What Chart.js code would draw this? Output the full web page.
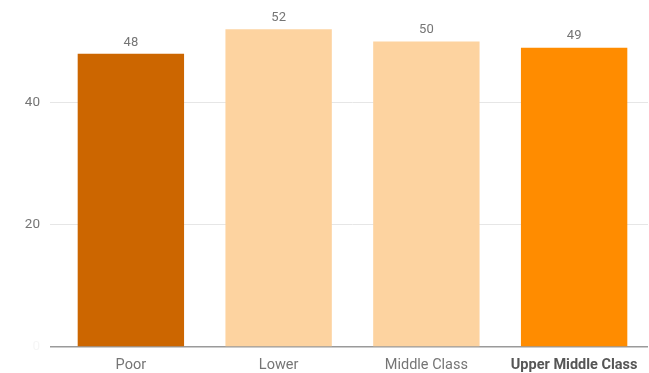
<!DOCTYPE html>
<html>
<head>
<meta charset="utf-8">
<script src="https://cdn.jsdelivr.net/npm/chart.js@4/dist/chart.umd.min.js"></script>
<style>
html,body{margin:0;padding:0;background:#fff;}
#wrap{width:649px;height:373px;position:relative;}
</style>
</head>
<body>
<div id="wrap"><canvas id="c" width="649" height="373"></canvas></div>
<script>
const categories = ["Poor", "Lower", "Middle Class", "Upper Middle Class"];
const values = [48, 52, 50, 49];
const barColors = ["#CC6600", "#FDD3A0", "#FDD3A0", "#FF8C00"];
const yTicks = [0, 20, 40];

const valueLabels = {
  id: 'valueLabels',
  afterDatasetsDraw(chart) {
    const ctx = chart.ctx;
    const meta = chart.getDatasetMeta(0);
    ctx.save();
    ctx.font = '13px Roboto';
    ctx.fillStyle = '#757575';
    ctx.textAlign = 'center';
    ctx.textBaseline = 'bottom';
    meta.data.forEach((bar, i) => {
      ctx.fillText(String(values[i]), bar.x, bar.y - 5);
    });
    ctx.restore();
  }
};

new Chart(document.getElementById('c'), {
  type: 'bar',
  data: {
    labels: categories,
    datasets: [{
      data: values,
      backgroundColor: barColors,
      borderWidth: 0,
      categoryPercentage: 1,
      barPercentage: 0.72
    }]
  },
  options: {
    responsive: false,
    animation: false,
    devicePixelRatio: 1,
    layout: { padding: { top: 11, right: 1, left: 0, bottom: 0 } },
    plugins: { legend: { display: false }, tooltip: { enabled: false } },
    scales: {
      x: {
        grid: { display: false, drawTicks: false },
        border: { display: false },
        ticks: {
          padding: 10,
          color: (c) => c.index === 3 ? '#555555' : '#757575',
          font: (c) => c.index === 3 ? { family: 'Roboto', size: 14.5, weight: 'bold' } : { family: 'Roboto', size: 14.5 }
        },
        afterFit(s) { s.height = 26; s.paddingLeft = 0; s.paddingRight = 0; }
      },
      y: {
        min: 0,
        max: 55,
        afterBuildTicks(s) { s.ticks = yTicks.map(v => ({ value: v })); },
        grid: {
          color: (c) => c.tick && c.tick.value === 0 ? '#9a9a9a' : '#e6e6e6',
          lineWidth: (c) => c.tick && c.tick.value === 0 ? 1.5 : 1,
          tickLength: 7
        },
        border: { display: false },
        ticks: {
          padding: 10,
          color: (c) => c.tick && c.tick.value === 0 ? '#f6f6f6' : '#757575',
          font: { family: 'Roboto', size: 13.5 }
        },
        afterFit(s) { s.width = 57; s.paddingTop = 0; s.paddingBottom = 0; }
      }
    }
  },
  plugins: [valueLabels]
});
</script>
</body>
</html>
